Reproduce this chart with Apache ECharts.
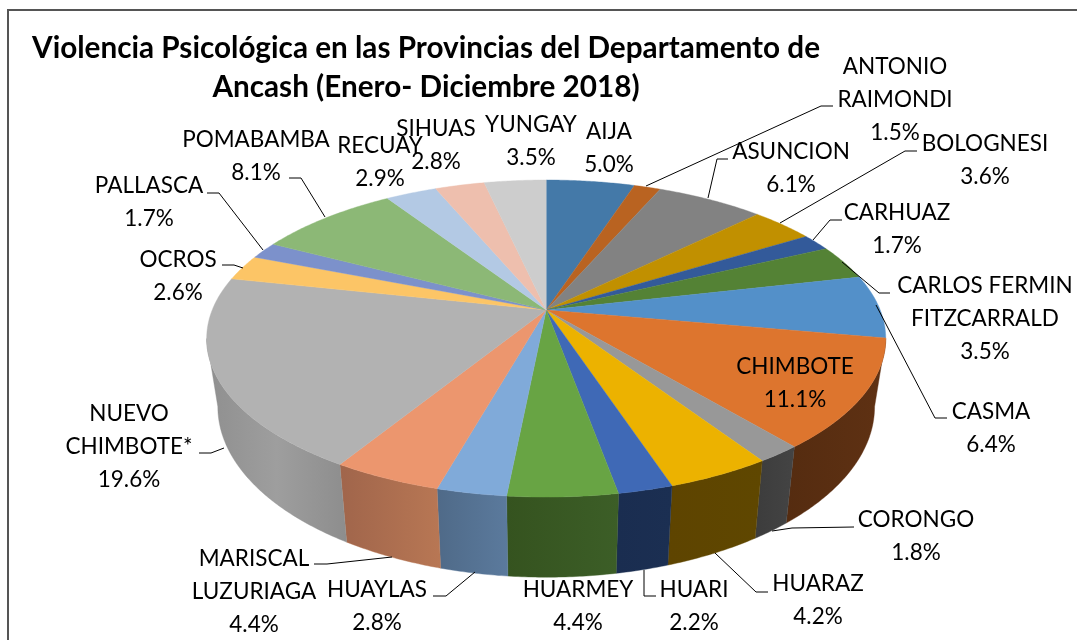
<!DOCTYPE html>
<html><head><meta charset="utf-8">
<style>html,body{margin:0;padding:0;background:#fff}#c{width:1077px;height:640px}</style>
<script src="https://cdn.jsdelivr.net/npm/echarts@6/dist/echarts.min.js"></script>
</head><body><div id="c"></div>
<script>
const titleText = 'Violencia Psicológica en las Provincias del Departamento de\nAncash (Enero- Diciembre 2018)';
const categories = ['AIJA','ANTONIO RAIMONDI','ASUNCION','BOLOGNESI','CARHUAZ','CARLOS FERMIN FITZCARRALD','CASMA','CHIMBOTE','CORONGO','HUARAZ','HUARI','HUARMEY','HUAYLAS','MARISCAL LUZURIAGA','NUEVO CHIMBOTE*','OCROS','PALLASCA','POMABAMBA','RECUAY','SIHUAS','YUNGAY'];
const values = [5.0,1.5,6.1,3.6,1.7,3.5,6.4,11.1,1.8,4.2,2.2,4.4,2.8,4.4,19.6,2.6,1.7,8.1,2.9,2.8,3.5];
const labelNames = ['AIJA','ANTONIO\nRAIMONDI','ASUNCION','BOLOGNESI','CARHUAZ','CARLOS FERMIN\nFITZCARRALD','CASMA','CHIMBOTE','CORONGO','HUARAZ','HUARI','HUARMEY','HUAYLAS','MARISCAL\nLUZURIAGA','NUEVO\nCHIMBOTE*','OCROS','PALLASCA','POMABAMBA','RECUAY','SIHUAS','YUNGAY'];
const topColors = ['#4479a8','#b96321','#828282','#c19000','#335a9a','#548235','#5390c9','#dd752e','#989898','#ecb200','#3f69b6','#68a444','#80aad9','#ec966e','#b2b2b2','#fcc566','#7c91cb','#8cb876','#b3c9e4','#eebfae','#cdcdcd'];
const wallColors = {7:['#5f3113','#552c10'],8:['#444444','#3c3c3c'],9:['#5f4700','#5e4400'],10:['#1b2f52','#1a2d50'],11:['#3c5e27','#35531f'],12:['#5b7a9d','#4f6a88'],13:['#b87754','#a0654b'],14:['#8d8d8d','#9e9e9e','#8f8f8f']};

// Layout, kept apart from the data
const labelPos = [[609,132],[895,67],[791,152],[985,144],[897,213],[985,286],[991,412],[795,367],[916,520],[818,584],[694,590],[578,590],[377,590],[254,559],[129,414],[178,260],[149,186],[256,140],[380,146],[436,129],[531,125]];
const leaders = {1:[[833,106],[821,106],[646,186]],2:[[728,159],[717,159],[708,198]],3:[[917,151],[905,151],[780,223]],4:[[842,220],[830,220],[813,240]],5:[[890,293],[879,293],[842,262]],6:[[947,418],[935,418],[876,305]],8:[[854,527],[792,528],[772,531]],9:[[768,592],[756,592],[715,553]],10:[[656,596],[644,596],[644,570]],12:[[433,596],[446,596],[475,572]],13:[[314,564],[327,564],[392,557]],14:[[199,453],[211,453],[224,448]],15:[[222,265],[234,265],[243,268]],16:[[207,193],[219,193],[263,250]],17:[[289,178],[301,178],[325,217]]};
const topRim = {cx:546.2,cy:310,rx:334,ry:153.4,k:0.18};
const botRim = {cx:546.2,cy:376,rx:323,ry:165,k:0.18};
const LINE = 33, FONT = '22.5px Lato, "Open Sans", sans-serif';

const total = values.reduce((a,b)=>a+b,0);
const starts = []; values.reduce((c,v,i)=>{starts[i]=c/total*360;return c+v;},0);
function rimPt(r,deg){const t=deg*Math.PI/180,d=1+r.k*Math.cos(t);
  return [r.cx+r.rx*Math.sin(t)/d, r.cy-r.ry*Math.cos(t)/d];}
function arc(r,a,b){const pts=[],n=Math.max(2,Math.ceil((b-a)/0.5));
  for(let i=0;i<=n;i++)pts.push(rimPt(r,a+(b-a)*i/n));return pts;}
const wallFrom=Math.acos(-topRim.k)*180/Math.PI, wallTo=360-wallFrom;

function renderWall(p,api){
  const i=p.dataIndex,a=Math.max(starts[i],wallFrom),b=Math.min(starts[i]+api.value(0)/total*360,wallTo);
  if(b<=a)return {type:'group',children:[]};
  const pts=arc(topRim,a,b).concat(arc(botRim,a,b).reverse());
  const cs=wallColors[i]||['#888','#888'];
  const stops=cs.map((c,j)=>({offset:j/(cs.length-1),color:c}));
  return {type:'polygon',shape:{points:pts},style:{fill:new echarts.graphic.LinearGradient(1,0,0,0,stops),stroke:cs[0],lineWidth:0.4}};
}
function renderTop(p,api){
  const i=p.dataIndex,a=starts[i],b=a+api.value(0)/total*360;
  const pts=[[topRim.cx,topRim.cy]].concat(arc(topRim,a,b));
  return {type:'polygon',shape:{points:pts},style:{fill:topColors[i],stroke:topColors[i],lineWidth:0.4}};
}
function renderLabel(p,api){
  const i=p.dataIndex,children=[];
  if(leaders[i])children.push({type:'polyline',shape:{points:leaders[i]},style:{fill:'none',stroke:'#000',lineWidth:1}});
  const lines=labelNames[i].split('\n').concat([api.value(0).toFixed(1)+'%']);
  lines.forEach((t,j)=>children.push({type:'text',style:{text:t,x:labelPos[i][0],y:labelPos[i][1]+j*LINE,align:'center',verticalAlign:'middle',font:FONT,fill:'#000'}}));
  return {type:'group',children};
}
const rows=values.map((v,i)=>({name:categories[i],value:[v]}));
const chart=echarts.init(document.getElementById('c'));
chart.setOption({
  animation:false,backgroundColor:'#fff',
  title:{text:titleText,left:421,top:24,textAlign:'center',textStyle:{fontFamily:'Lato',fontWeight:'bold',fontSize:29.7,lineHeight:39,color:'#000'}},
  graphic:[{type:'rect',shape:{x:8,y:10,width:1100,height:660},style:{fill:'none',stroke:'#555',lineWidth:2},silent:true,z:-1}],
  series:[
    {type:'custom',coordinateSystem:'none',renderItem:renderWall,data:rows,silent:true,z:2},
    {type:'custom',coordinateSystem:'none',renderItem:renderTop,data:rows,silent:true,z:3},
    {type:'custom',coordinateSystem:'none',renderItem:renderLabel,data:rows,silent:true,z:4}
  ]
});
</script></body></html>
